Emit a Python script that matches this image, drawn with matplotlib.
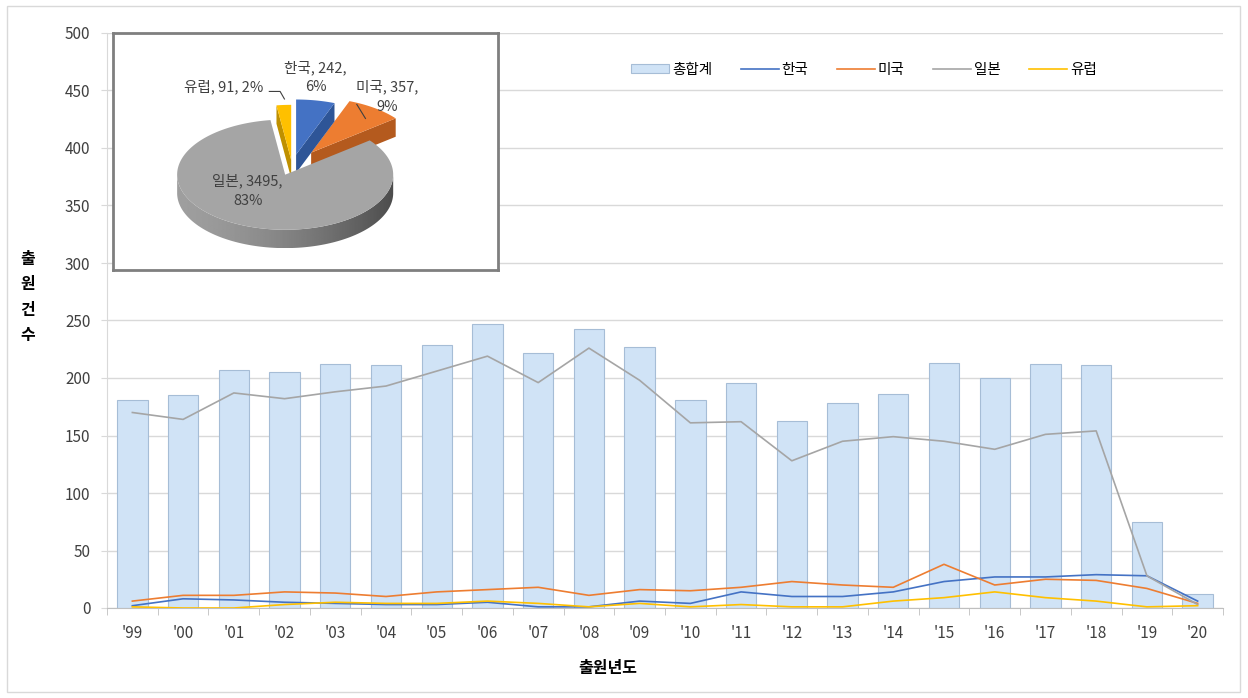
import matplotlib.pyplot as plt
import numpy as np
from matplotlib.patches import Polygon, Rectangle

plt.rcParams['font.family'] = ['Noto Sans CJK KR', 'DejaVu Sans']

# yearly filings
years = ["'99", "'00", "'01", "'02", "'03", "'04", "'05", "'06", "'07", "'08", "'09",
         "'10", "'11", "'12", "'13", "'14", "'15", "'16", "'17", "'18", "'19", "'20"]
total = [181, 185, 207, 205, 212, 211, 229, 247, 222, 243, 227,
         181, 196, 163, 178, 186, 213, 200, 212, 211, 75, 12]
korea = [2, 8, 7, 5, 4, 3, 3, 5, 1, 1, 6, 4, 14, 10, 10, 14, 23, 27, 27, 29, 28, 6]
usa = [6, 11, 11, 14, 13, 10, 14, 16, 18, 11, 16, 15, 18, 23, 20, 18, 38, 20, 25, 24, 17, 4]
japan = [170, 164, 187, 182, 188, 193, 206, 219, 196, 226, 198,
         161, 162, 128, 145, 149, 145, 138, 151, 154, 28, 3]
europe = [1, 0, 0, 3, 5, 4, 4, 6, 4, 1, 4, 1, 3, 1, 1, 6, 9, 14, 9, 6, 1, 2]

# country totals for the pie
pie_names = ['한국', '미국', '일본', '유럽']
pie_counts = [242, 357, 3495, 91]
pie_pcts = ['6%', '9%', '83%', '2%']

c_kr, c_us, c_jp, c_eu = '#4472C4', '#ED7D31', '#A5A5A5', '#FFC000'

fig = plt.figure(figsize=(12.48, 6.98), dpi=100)
fig.patches.append(Rectangle((7 / 1248, 6 / 698), 1233 / 1248, 686 / 698,
                             transform=fig.transFigure, fill=False,
                             edgecolor='#D9D9D9', lw=1))

ax = fig.add_axes([107 / 1248, 1 - 608 / 698, 1116 / 1248, 575 / 698])
x = np.arange(len(years))
bars = ax.bar(x, total, width=0.6, color='#D0E3F6', edgecolor='#A6BDD6', lw=0.8,
              label='총합계', zorder=2)
lk, = ax.plot(x, korea, color=c_kr, lw=1.2, label='한국', zorder=3)
lu, = ax.plot(x, usa, color=c_us, lw=1.2, label='미국', zorder=3)
lj, = ax.plot(x, japan, color=c_jp, lw=1.2, label='일본', zorder=3)
le, = ax.plot(x, europe, color=c_eu, lw=1.2, label='유럽', zorder=3)

ax.set_xlim(-0.5, len(years) - 0.5)
ax.set_ylim(0, 500)
ax.set_yticks(np.arange(0, 501, 50))
ax.yaxis.grid(True, color='#D9D9D9', lw=1, zorder=0)
ax.set_axisbelow(True)
ax.set_xticks(x)
ax.set_xticklabels(years)
ax.set_xticks(np.arange(-0.5, len(years), 1), minor=True)
ax.tick_params(axis='x', which='major', length=0, pad=12, labelsize=11, labelcolor='#404040')
ax.tick_params(axis='x', which='minor', length=5, color='#BFBFBF', direction='out')
ax.tick_params(axis='y', length=4, color='#D9D9D9', pad=8, labelsize=11, labelcolor='#404040')
for s in ['top', 'right']:
    ax.spines[s].set_visible(False)
ax.spines['left'].set_color('#D9D9D9')
ax.spines['bottom'].set_color('#BFBFBF')

fig.legend([bars, lk, lu, lj, le], ['총합계', '한국', '미국', '일본', '유럽'],
           loc='center', bbox_to_anchor=(864 / 1248, 1 - 70 / 698), ncol=5,
           frameon=False, fontsize=10.5, handlelength=2.6, handletextpad=0.2,
           columnspacing=1.95, handleheight=0.6)

fig.text(608 / 1248, 1 - 668 / 698, '출원년도', ha='center', va='center',
         fontsize=11.5, fontweight='bold')
fig.text(28 / 1248, 1 - 297 / 698, '출\n원\n건\n수', ha='center', va='center',
         fontsize=11.5, fontweight='bold', linespacing=1.7)

# inset 3D-looking pie
pax = fig.add_axes([113 / 1248, 1 - 270 / 698, 385 / 1248, 237 / 698], zorder=5)
pax.set_xlim(-1.657, 1.907)
pax.set_ylim(-0.963, 1.231)
pax.set_xticks([])
pax.set_yticks([])
for s in pax.spines.values():
    s.set_color('#7F7F7F')
    s.set_linewidth(2)

rx, ry, depth = 1.0, 0.51, 0.17
explode = [0.21, 0.30, 0.17, 0.11]
tops = [c_kr, c_us, c_jp, c_eu]
sides = ['#2E5597', '#B45A1E', '#6E6E6E', '#BF9000']
fracs = np.array(pie_counts) / sum(pie_counts)


def ell(cx, cy, t):
    return np.column_stack([cx + rx * np.cos(t), cy + ry * np.sin(t)])


start = np.pi / 2
wedges = []
for i, f in enumerate(fracs):
    a1 = start - f * 2 * np.pi
    a2 = start
    start = a1
    mid = (a1 + a2) / 2
    cx = explode[i] * np.cos(mid)
    cy = explode[i] * ry * np.sin(mid)
    wedges.append((i, a1, a2, cx, cy))

# back-to-front
order = sorted(wedges, key=lambda w: -w[4])
for k, (i, a1, a2, cx, cy) in enumerate(order):
    z = 10 + k * 3
    # radial cut faces facing the viewer
    for a, nrm in [(a1, a1 - np.pi / 2), (a2, a2 + np.pi / 2)]:
        if np.sin(nrm) < 0:
            e = ell(cx, cy, np.array([a]))[0]
            quad = [(cx, cy), tuple(e), (e[0], e[1] - depth), (cx, cy - depth)]
            pax.add_patch(Polygon(quad, closed=True, fc=sides[i], ec='none', zorder=z))
    # outer rim
    t = np.linspace(a1, a2, 300)
    vis = np.sin(t) < 0
    if vis.any():
        top = ell(cx, cy, t[vis])
        bot = top - [0, depth]
        poly = np.vstack([top, bot[::-1]])
        if i == 2:
            patch = Polygon(poly, closed=True, fc='none', ec='none', zorder=z + 1)
            pax.add_patch(patch)
            gx = np.linspace(0, 1, 200)
            grad = np.outer(np.ones(20), 1 - gx ** 1.6)
            im = pax.imshow(grad, cmap='gray', vmin=-0.94, vmax=2.19,
                            extent=[cx - rx, cx + rx, cy - ry - depth, cy],
                            aspect='auto', zorder=z + 1)
            im.set_clip_path(patch)
        else:
            pax.add_patch(Polygon(poly, closed=True, fc=sides[i], ec='none', zorder=z + 1))
    face = np.vstack([[cx, cy], ell(cx, cy, t)])
    pax.add_patch(Polygon(face, closed=True, fc=tops[i], ec='none', zorder=z + 2))

lbl = dict(fontsize=10.5, ha='center', va='center', color='#404040', zorder=40)
pax.text(0.22, 0.82, f'{pie_names[0]}, {pie_counts[0]},\n{pie_pcts[0]}', linespacing=1.45, **lbl)
pax.text(0.88, 0.64, f'{pie_names[1]}, {pie_counts[1]},\n{pie_pcts[1]}', linespacing=1.45, **lbl)
pax.text(-0.41, -0.23, f'{pie_names[2]}, {pie_counts[2]},\n{pie_pcts[2]}', linespacing=1.45, **lbl)
pax.text(-0.63, 0.73, f'{pie_names[3]}, {pie_counts[3]}, {pie_pcts[3]}', **lbl)
pax.plot([0.6, 0.68], [0.57, 0.44], color='#404040', lw=0.8, zorder=40)
pax.plot([-0.21, -0.11, -0.07], [0.69, 0.69, 0.62], color='#404040', lw=0.8, zorder=40)

fig.savefig('out.png', dpi=100)
